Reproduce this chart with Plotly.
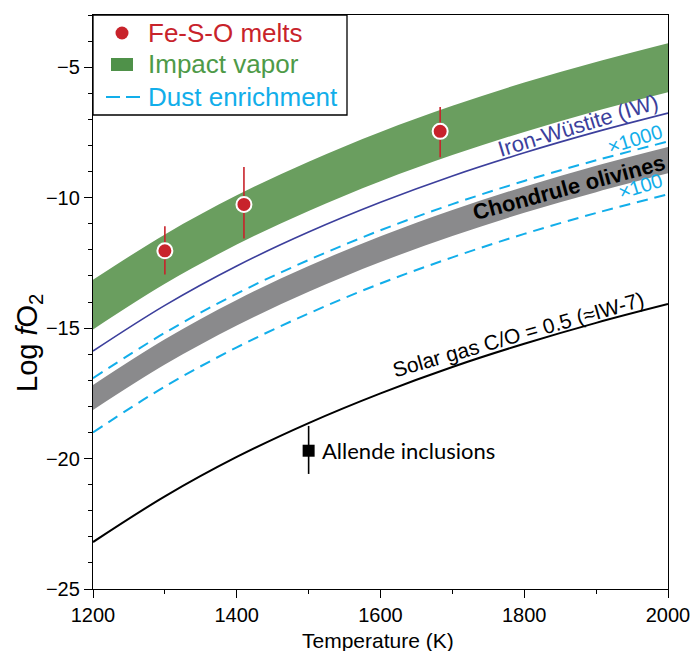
import plotly.graph_objects as go

# ---------------- data ----------------
temperature = [1200, 1300, 1400, 1500, 1600, 1700, 1800, 1900, 2000]
impact_top = [-13.15, -11.41, -9.91, -8.62, -7.48, -6.48, -5.59, -4.80, -4.08]
impact_bottom = [-15.05, -13.30, -11.80, -10.51, -9.37, -8.37, -7.48, -6.68, -5.96]
iron_wustite = [-15.88, -14.13, -12.62, -11.32, -10.18, -9.17, -8.28, -7.48, -6.76]
dust_x1000 = [-16.92, -15.18, -13.68, -12.39, -11.25, -10.25, -9.36, -8.57, -7.85]
chondrule_top = [-17.18, -15.43, -13.92, -12.62, -11.48, -10.47, -9.58, -8.78, -8.06]
chondrule_bottom = [-18.14, -16.40, -14.90, -13.61, -12.47, -11.47, -10.58, -9.79, -9.07]
dust_x100 = [-19.00, -17.24, -15.74, -14.44, -13.29, -12.29, -11.39, -10.59, -9.87]
solar_gas = [-23.20, -21.45, -19.94, -18.64, -17.50, -16.49, -15.60, -14.80, -14.08]

fes_T = [1300, 1410, 1683]
fes_logfo2 = [-12.04, -10.26, -7.46]
fes_err_plus = [0.94, 1.43, 0.93]
fes_err_minus = [0.91, 1.31, 0.99]

allende_T = [1500]
allende_logfo2 = [-19.70]
allende_err_plus = [0.95]
allende_err_minus = [0.89]

x_ticks = [1200, 1400, 1600, 1800, 2000]
y_ticks = [-25, -20, -15, -10, -5]

# ---------------- styles ----------------
RED = "#C8232B"
GREEN_BAND = "#6A9E5F"
GREEN_LEG = "#4F9149"
GREEN_TXT = "#4E9A48"
GRAY = "#8A8A8C"
CYAN = "#12AEEA"
IWBLUE = "#3C3F9C"
FONT = "Liberation Sans, Arial, sans-serif"

fig = go.Figure()

# impact vapor band
fig.add_trace(go.Scatter(x=temperature, y=impact_bottom, mode="lines",
                         line=dict(width=0, shape="spline", color=GREEN_BAND),
                         hoverinfo="skip", showlegend=False))
fig.add_trace(go.Scatter(x=temperature, y=impact_top, mode="lines", fill="tonexty",
                         fillcolor=GREEN_BAND,
                         line=dict(width=0, shape="spline", color=GREEN_BAND),
                         showlegend=False))
# chondrule olivines band
fig.add_trace(go.Scatter(x=temperature, y=chondrule_bottom, mode="lines",
                         line=dict(width=0, shape="spline", color=GRAY),
                         hoverinfo="skip", showlegend=False))
fig.add_trace(go.Scatter(x=temperature, y=chondrule_top, mode="lines", fill="tonexty",
                         fillcolor=GRAY,
                         line=dict(width=0, shape="spline", color=GRAY),
                         showlegend=False))
# IW buffer
fig.add_trace(go.Scatter(x=temperature, y=iron_wustite, mode="lines",
                         line=dict(width=1.6, shape="spline", color=IWBLUE),
                         showlegend=False))
# dust enrichment
for ys in (dust_x1000, dust_x100):
    fig.add_trace(go.Scatter(x=temperature, y=ys, mode="lines",
                             line=dict(width=2, shape="spline", color=CYAN, dash="11px,7px"),
                             showlegend=False))
# solar gas
fig.add_trace(go.Scatter(x=temperature, y=solar_gas, mode="lines",
                         line=dict(width=2, shape="spline", color="black"),
                         showlegend=False))
# Fe-S-O melts
fig.add_trace(go.Scatter(x=fes_T, y=fes_logfo2, mode="markers",
                         marker=dict(size=15, color=RED, line=dict(color="white", width=2)),
                         error_y=dict(type="data", array=fes_err_plus, arrayminus=fes_err_minus,
                                      color=RED, thickness=1.6, width=0),
                         showlegend=False))
# Allende inclusions
fig.add_trace(go.Scatter(x=allende_T, y=allende_logfo2, mode="markers",
                         marker=dict(size=12, symbol="square", color="black"),
                         error_y=dict(type="data", array=allende_err_plus,
                                      arrayminus=allende_err_minus,
                                      color="black", thickness=1.6, width=0),
                         showlegend=False))

# ---------------- curve labels ----------------
def label(text, x, y, angle, color, size=20, family=FONT, xanchor="center"):
    fig.add_annotation(x=x, y=y, xref="x", yref="y", text=text, showarrow=False,
                       textangle=angle, xanchor=xanchor, yanchor="middle",
                       font=dict(family=family, size=size, color=color))

label("Iron-Wüstite (IW)", 1875, -7.23, -17, IWBLUE, size=22)
label("×1000", 1954, -7.77, -17, CYAN, size=20)
label("<b>Chondrule olivines</b>", 1862, -9.61, -15, "black", size=22)
label("×100", 1962, -9.57, -17, CYAN, size=20)
label("Solar gas C/O = 0.5 (≈IW-7)", 1791, -15.23, -16, "black", size=21)
label("Allende inclusions", 1516, -19.70, 0, "black", size=22,
      family="Lato, Open Sans, sans-serif", xanchor="left")

# ---------------- manual legend (screen-pixel positions of plot frame) ----------------
L, R, T_, B = 93, 668, 15, 589
def px(xp):
    return (xp - L) / (R - L)
def py(yp):
    return (B - yp) / (B - T_)

fig.add_shape(type="rect", xref="paper", yref="paper", x0=px(93), x1=px(347),
              y0=py(115), y1=py(15), line=dict(color="black", width=1.3),
              fillcolor="white", layer="above")
fig.add_shape(type="circle", xref="paper", yref="paper", x0=px(115.5), x1=px(128.5),
              y0=py(39.5), y1=py(26.5), line=dict(width=0), fillcolor=RED, layer="above")
fig.add_shape(type="rect", xref="paper", yref="paper", x0=px(111), x1=px(133),
              y0=py(71), y1=py(58), line=dict(width=0), fillcolor=GREEN_LEG, layer="above")
for a, b in ((106, 120), (126, 140)):
    fig.add_shape(type="line", xref="paper", yref="paper", x0=px(a), x1=px(b),
                  y0=py(97), y1=py(97), line=dict(color=CYAN, width=2), layer="above")
for txt, yy, col in (("Fe-S-O melts", 33, RED), ("Impact vapor", 64, GREEN_TXT),
                     ("Dust enrichment", 97, CYAN)):
    fig.add_annotation(x=px(146), y=py(yy), xref="paper", yref="paper", text=txt,
                       showarrow=False, xanchor="left", yanchor="middle",
                       font=dict(family=FONT, size=26, color=col))

# axis titles
fig.add_annotation(x=px(29), y=py(343), xref="paper", yref="paper",
                   text="Log <i>f</i>O<sub>2</sub>", showarrow=False, textangle=-90,
                   xanchor="center", yanchor="middle", font=dict(family=FONT, size=29, color="black"))
fig.add_annotation(x=px(378), y=py(640), xref="paper", yref="paper",
                   text="Temperature (K)", showarrow=False,
                   xanchor="center", yanchor="middle", font=dict(family=FONT, size=21, color="black"))

fig.update_xaxes(range=[1200, 2000], tickvals=x_ticks, ticks="outside", ticklen=8,
                 tickwidth=1.3, tickcolor="black", showline=True, mirror=True,
                 linecolor="black", linewidth=1.3, showgrid=False, zeroline=False,
                 automargin=False,
                 tickfont=dict(family=FONT, size=20, color="black"),
                 minor=dict(dtick=100, tick0=1200, ticks="outside", ticklen=4,
                            tickcolor="black", tickwidth=1.3, showgrid=False))
fig.update_yaxes(range=[-25, -3], tickvals=y_ticks, ticks="outside", ticklen=8,
                 tickwidth=1.3, tickcolor="black", showline=True, mirror=True,
                 linecolor="black", linewidth=1.3, showgrid=False, zeroline=False,
                 automargin=False,
                 tickfont=dict(family=FONT, size=20, color="black"),
                 minor=dict(dtick=1, tick0=-25, ticks="outside", ticklen=4,
                            tickcolor="black", tickwidth=1.3, showgrid=False))

fig.update_layout(width=691, height=651, margin=dict(l=93, r=23, t=15, b=62),
                  plot_bgcolor="white", paper_bgcolor="white", showlegend=False)

fig.write_html("out.html",
               config={"responsive": False, "displayModeBar": False},
               post_script="document.body.style.margin='0';"
                           "document.body.style.overflow='hidden';")
